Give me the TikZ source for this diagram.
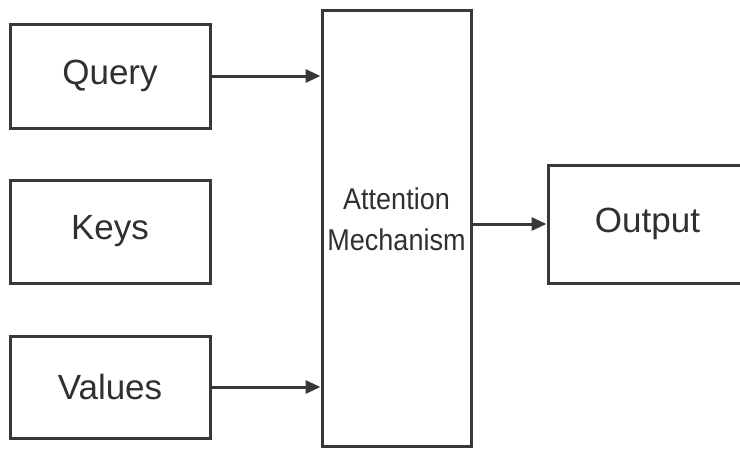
\documentclass[tikz,border=0pt]{standalone}
\usepackage{fontspec}
\setmainfont{Liberation Sans}
\usetikzlibrary{arrows.meta}
\definecolor{ink}{HTML}{383838}
\definecolor{txt}{HTML}{303030}
\begin{document}
\begin{tikzpicture}[x=1pt,y=-1pt,
  block/.style={draw=ink, line width=3pt, fill=white, minimum width=200pt,
    inner sep=0pt, text=txt, font=\fontsize{35}{40}\selectfont},
  flow/.style={draw=ink, line width=3pt,
    -{Triangle[length=15pt,width=13pt]}}]
  \useasboundingbox (0,0) rectangle (740,448);
  \clip (0,0) rectangle (740,448);
  \fill[white] (0,0) rectangle (740,448);
  % input blocks
  \node[block, minimum height=104pt] (query)  at (110,76)    {Query};
  \node[block, minimum height=103pt] (keys)   at (110,231.5) {Keys};
  \node[block, minimum height=102pt] (values) at (110,387)   {Values};
  % attention block and its two-line label
  \node[block, minimum width=149pt, minimum height=436pt] (attn) at (396.5,228) {};
  \node[text=txt, inner sep=0pt, align=center,
    font=\fontsize{30}{41}\selectfont] (attnlabel) at ([yshift=9pt]attn.center)
    {\scalebox{0.9}[1]{Attention}\\\scalebox{0.9}[1]{Mechanism}};
  % output block
  \node[block, minimum width=199pt, minimum height=118pt] (out) at (647.5,224) {Output};
  % connectors
  \draw[flow] (query.east)  -- (query.east -| attn.west);
  \draw[flow] (values.east) -- (values.east -| attn.west);
  \draw[flow] (attn.east |- out.west) -- (out.west);
\end{tikzpicture}
\end{document}
